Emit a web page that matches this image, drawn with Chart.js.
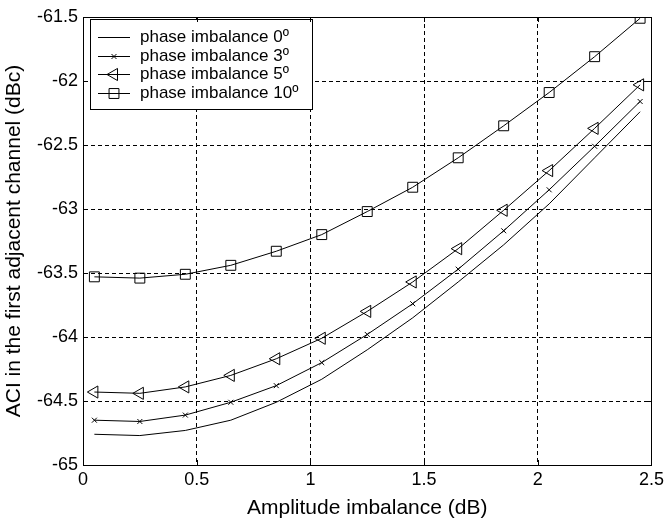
<!DOCTYPE html>
<html>
<head>
<meta charset="utf-8">
<script src="https://cdn.jsdelivr.net/npm/chart.js@4.4.1/dist/chart.umd.min.js"></script>
<style>
  html, body { margin: 0; padding: 0; background: #fff; }
  #wrap { width: 668px; height: 523px; }
</style>
</head>
<body>
<div id="wrap"><canvas id="aciChart"></canvas></div>
<script>
// Amplitude imbalance (dB) sample points
var amplitude = [0.05, 0.25, 0.45, 0.65, 0.85, 1.05, 1.25, 1.45, 1.65, 1.85, 2.05, 2.25, 2.45];

// ACI values (dBc) per phase imbalance
var phase0 = [-64.76, -64.77, -64.73, -64.65, -64.51, -64.33, -64.10, -63.85, -63.57, -63.28, -62.96, -62.60, -62.24];
var phase3 = [-64.65, -64.66, -64.61, -64.51, -64.38, -64.20, -63.98, -63.74, -63.47, -63.17, -62.85, -62.51, -62.16];
var phase5 = [-64.43, -64.44, -64.39, -64.30, -64.17, -64.01, -63.80, -63.57, -63.31, -63.01, -62.70, -62.37, -62.03];
var phase10 = [-63.53, -63.54, -63.51, -63.44, -63.33, -63.20, -63.02, -62.83, -62.60, -62.35, -62.09, -61.81, -61.51];

var seriesNames = ['phase imbalance 0\u00BA', 'phase imbalance 3\u00BA', 'phase imbalance 5\u00BA', 'phase imbalance 10\u00BA'];

var xTicks = [0, 0.5, 1, 1.5, 2, 2.5];
var yTicks = [-65, -64.5, -64, -63.5, -63, -62.5, -62, -61.5];

var FONT = "'Liberation Sans', Arial, sans-serif";

function pts(ys) {
  return amplitude.map(function (x, i) { return { x: x, y: ys[i] }; });
}

function series(label, ys, style, radius, rot) {
  return {
    label: label,
    data: pts(ys),
    borderColor: '#000',
    borderWidth: 1,
    backgroundColor: 'rgba(0,0,0,0)',
    pointStyle: style,
    pointRadius: radius,
    pointRotation: rot,
    pointBorderColor: '#000',
    pointBorderWidth: 1,
    pointBackgroundColor: 'rgba(0,0,0,0)',
    tension: 0,
    fill: false
  };
}

// box round the plot + inward tick marks (matlab style)
var axesBox = {
  id: 'axesBox',
  afterDraw: function (chart) {
    var ctx = chart.ctx, a = chart.chartArea;
    var xs = chart.scales.x, ys = chart.scales.y;
    ctx.save();
    ctx.strokeStyle = '#000';
    ctx.lineWidth = 1;
    ctx.beginPath();
    xTicks.forEach(function (v) {
      var px = Math.round(xs.getPixelForValue(v)) + 0.5;
      ctx.moveTo(px, a.bottom); ctx.lineTo(px, a.bottom - 5);
      ctx.moveTo(px, a.top); ctx.lineTo(px, a.top + 5);
    });
    yTicks.forEach(function (v) {
      var py = Math.round(ys.getPixelForValue(v)) + 0.5;
      ctx.moveTo(a.left, py); ctx.lineTo(a.left + 5, py);
      ctx.moveTo(a.right, py); ctx.lineTo(a.right - 5, py);
    });
    ctx.stroke();
    ctx.strokeRect(Math.round(a.left) + 0.5, Math.round(a.top) + 0.5,
      Math.round(a.right - a.left), Math.round(a.bottom - a.top));
    ctx.restore();
  }
};

// legend box inside the plot, top left
var legendBox = {
  id: 'legendBox',
  afterDatasetsDraw: function (chart) {
    var ctx = chart.ctx;
    var x0 = 90, y0 = 19, w = 222, h = 90;
    ctx.save();
    ctx.fillStyle = '#fff';
    ctx.fillRect(x0, y0, w, h);
    ctx.strokeStyle = '#000';
    ctx.lineWidth = 1;
    ctx.strokeRect(x0 + 0.5, y0 + 0.5, w, h);
    ctx.font = '17px ' + FONT;
    ctx.textBaseline = 'middle';
    chart.data.datasets.forEach(function (ds, i) {
      var y = Math.round(y0 + 18 + i * 18.7) + 0.5;
      ctx.strokeStyle = '#000';
      ctx.beginPath();
      ctx.moveTo(x0 + 8, y);
      ctx.lineTo(x0 + 40, y);
      ctx.stroke();
      if (ds.pointRadius > 0) {
        ctx.fillStyle = 'rgba(0,0,0,0)';
        Chart.helpers.drawPoint(ctx, {
          pointStyle: ds.pointStyle,
          radius: ds.pointRadius,
          rotation: ds.pointRotation,
          borderWidth: 1
        }, x0 + 24, y);
      }
      ctx.fillStyle = '#000';
      ctx.fillText(ds.label, x0 + 50, y);
    });
    ctx.restore();
  }
};

var ctx = document.getElementById('aciChart').getContext('2d');
var aciChart = new Chart(ctx, {
  type: 'line',
  data: {
    datasets: [
      series(seriesNames[0], phase0, false, 0, 0),
      series(seriesNames[1], phase3, 'crossRot', 3.5, 0),
      series(seriesNames[2], phase5, 'triangle', 7, -90),
      series(seriesNames[3], phase10, 'rect', 7, 0)
    ]
  },
  options: {
    responsive: true,
    maintainAspectRatio: false,
    animation: false,
    devicePixelRatio: 1,
    layout: { padding: { top: 17, right: 14, left: 0, bottom: 0 } },
    plugins: {
      legend: { display: false },
      tooltip: { enabled: false }
    },
    scales: {
      x: {
        type: 'linear',
        min: 0,
        max: 2.5,
        afterBuildTicks: function (s) { s.ticks = xTicks.map(function (v) { return { value: v }; }); },
        afterFit: function (s) { s.height = 58; },
        grid: { color: '#000', lineWidth: 1, drawTicks: false },
        border: { display: true, color: '#000', width: 1, dash: [4, 3] },
        ticks: {
          color: '#000',
          padding: 4,
          maxRotation: 0,
          font: { family: FONT, size: 18 },
          callback: function (v) { return String(v); }
        },
        title: {
          display: true,
          text: 'Amplitude imbalance (dB)',
          color: '#000',
          font: { family: FONT, size: 21 },
          padding: { top: 0, bottom: 2 }
        }
      },
      y: {
        type: 'linear',
        min: -65,
        max: -61.5,
        afterBuildTicks: function (s) { s.ticks = yTicks.map(function (v) { return { value: v }; }); },
        afterFit: function (s) { s.width = 83; },
        grid: { color: '#000', lineWidth: 1, drawTicks: false },
        border: { display: true, color: '#000', width: 1, dash: [4, 3] },
        ticks: {
          color: '#000',
          padding: 5,
          font: { family: FONT, size: 18 },
          callback: function (v) { return String(v); }
        },
        title: {
          display: true,
          text: 'ACI in the first adjacent channel (dBc)',
          color: '#000',
          font: { family: FONT, size: 21 },
          padding: { top: 2, bottom: 0 }
        }
      }
    }
  },
  plugins: [axesBox, legendBox]
});
</script>
</body>
</html>
